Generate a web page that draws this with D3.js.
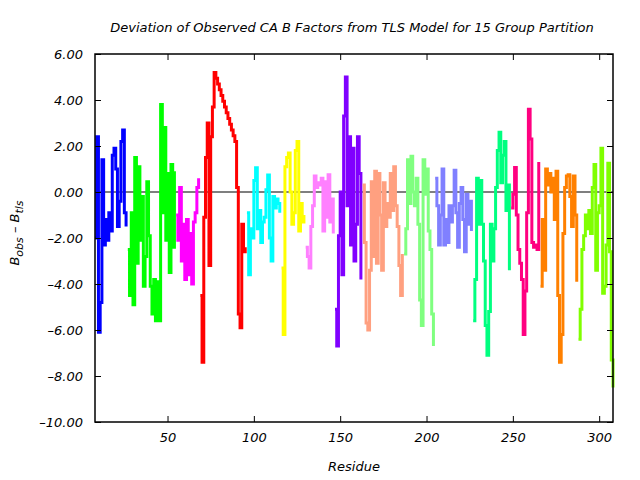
<!DOCTYPE html>
<html>
<head>
<meta charset="utf-8">
<script src="https://cdn.jsdelivr.net/npm/d3@7"></script>
<style>
  html, body { margin: 0; padding: 0; background: #fff; }
  svg { display: block; }
  text { font-family: "DejaVu Sans", sans-serif; font-style: italic; }
</style>
</head>
<body>
<svg id="chart" width="640" height="480"></svg>
<script>
// ---- data ----
const titleText = "Deviation of Observed CA B Factors from TLS Model for 15 Group Partition";
const xLabel = "Residue";
const xTicks = [50, 100, 150, 200, 250, 300];
const yTicks = [6, 4, 2, 0, -2, -4, -6, -8, -10];

const groupColors = ["#0000ff", "#00ff00", "#ff00ff", "#ff0000", "#00ffff",
                     "#ffff00", "#ff80ff", "#8000ff", "#ffa080", "#80ff80",
                     "#8080ff", "#00ff80", "#ff0080", "#ff8000", "#80ff00"];
// first residue of each group
const groupStarts = [8, 27, 55, 69, 96, 116, 130, 147, 163, 187, 205, 227, 249, 266, 288];

const g01 = [-2.0, 2.4, -6.1, -4.8, 1.4, -2.3, -1.2, -2.1, -0.9, -1.7, 1.6, 1.9, 1.0, -1.5, -0.4, 2.2, 2.7, -0.9, -1.5];
const g02 = [-2.5, -4.5, -0.9, -4.9, 1.5, -3.1, 1.1, -2.1, -0.2, -4.1, -2.8, 0.45, -1.9, -4.1, -5.3, -3.8, -5.6, -3.9, -5.6, 3.8, -0.9, 2.8, -2.1, 0.8, -3.5, 1.2, -2.4, 0.9];
const g03 = [-1.0, -2.1, 0.2, -3.0, -1.4, -3.8, -1.2, -3.6, -1.8, -4.0, -1.3, -0.9, 0.2, 0.6];
const g04 = [-4.5, -7.4, -1.1, 1.5, 3.0, -3.2, 2.4, 3.7, 5.2, 4.95, 4.7, 4.45, 4.2, 3.95, 3.7, 3.45, 3.2, 2.95, 2.7, 2.45, 2.2, 0.2, -5.3, -5.9, -1.4, -2.6, -2.4];
const g05 = [-0.9, -3.6, -1.6, -2.0, 0.5, 1.05, -1.6, -0.8, -2.2, -1.3, -1.1, 0.1, 0.74, -2.0, -3.0, -0.2, -0.7, -0.3, -0.5, -0.9];
const g06 = [-3.3, -6.2, 1.1, 1.5, 1.7, 0.0, -1.4, -0.9, 1.8, 2.2, -1.7, -0.5, -1.3, -1.0];
const g07 = [-2.4, -2.8, -3.3, -1.5, -0.6, 0.7, 0.2, 0.4, 0.3, 0.6, -1.7, 0.45, -1.1, 0.75, -1.3, -0.3, -1.8];
const g08 = [-5.1, -6.7, -1.9, 0.0, -3.6, 3.3, 5.0, -0.6, 2.4, -2.3, 1.9, -3.0, -1.4, 2.4, 0.8, -3.8];
const g09 = [0.3, -2.2, -5.7, -6.0, -3.4, 0.45, -2.8, 0.9, -3.1, 0.8, -1.0, -3.4, 0.4, -1.5, -0.5, -1.1, 0.8, -0.8, 1.1, -0.6, -1.5, -3.2, -4.5, -2.7];
const g10 = [-2.7, -1.6, 1.4, -0.5, 1.55, 0.0, -0.6, 0.6, -1.4, -4.7, -5.8, 1.4, -0.1, 1.0, -1.7, -2.5, -5.3, -6.7];
const g11 = [0.6, -0.6, -2.3, -1.0, 1.0, -2.3, -1.2, -2.2, -0.6, -1.3, -0.6, 0.95, -0.9, -2.4, -0.5, 0.2, -1.2, -2.6, -0.1, -1.4, -0.4, -1.7];
const g12 = [-5.6, -3.8, 0.6, -1.4, 0.5, -1.4, -3.0, -5.8, -7.1, -5.2, -1.4, -3.0, -1.6, 0.2, 1.8, 2.6, 0.4, 1.6, 2.2, -0.8, 0.3, -3.4];
const g13 = [-0.7, -0.1, 1.07, -1.0, -2.5, -3.1, -3.8, -6.2, -4.3, -0.9, 3.6, 2.3, -2.2, -2.4, -2.3, -2.5, 1.3];
const g14 = [-4.1, -1.2, -3.4, 1.0, 0.3, 0.8, 0.0, 0.6, -1.2, 0.9, -4.5, -7.4, -6.2, -1.8, 0.2, 0.7, 0.75, -0.2, -1.5, 0.7, -1.0, -3.9];
const g15 = [-6.4, -5.1, -2.5, -1.9, -1.0, -1.6, -0.8, -1.8, 0.2, 1.2, -3.4, -0.9, -0.6, 1.9, -4.4, -4.1, -2.3, 1.25, -2.6, -7.3, -8.5];
const groupValues = [g01, g02, g03, g04, g05, g06, g07, g08, g09, g10, g11, g12, g13, g14, g15];

// ---- layout ----
const plot = { left: 95, right: 613, top: 54, bottom: 422 };
const svg = d3.select("#chart");

const x = d3.scaleLinear().domain([8, 308]).range([plot.left, plot.right]);
const y = d3.scaleLinear().domain([-10, 6]).range([plot.bottom, plot.top]);

// zero line
svg.append("line")
  .attr("x1", plot.left).attr("x2", plot.right)
  .attr("y1", y(0)).attr("y2", y(0))
  .attr("stroke", "#000").attr("stroke-width", 1.2);

// data series (step lines)
const line = d3.line()
  .x(d => x(d.r)).y(d => y(d.v))
  .curve(d3.curveStepAfter);

groupValues.forEach((vals, i) => {
  const pts = vals.map((v, k) => ({ r: groupStarts[i] + k, v }));
  svg.append("path")
    .datum(pts)
    .attr("d", line)
    .attr("fill", "none")
    .attr("stroke", groupColors[i])
    .attr("stroke-width", 3)
    .attr("stroke-linejoin", "miter");
});

// axes (inward ticks on all sides)
const fmtY = d => (d < 0 ? "\u2013" + Math.abs(d).toFixed(2) : d.toFixed(2));

const gl = svg.append("g").attr("transform", `translate(${plot.left},0)`)
  .call(d3.axisLeft(y).tickValues(yTicks).tickSize(-6).tickSizeOuter(0).tickPadding(12).tickFormat(fmtY));
const gb = svg.append("g").attr("transform", `translate(0,${plot.bottom})`)
  .call(d3.axisBottom(x).tickValues(xTicks).tickSize(-6).tickSizeOuter(0).tickPadding(11).tickFormat(d3.format("d")));
const gt = svg.append("g").attr("transform", `translate(0,${plot.top})`)
  .call(d3.axisTop(x).tickValues(xTicks).tickSize(-6).tickSizeOuter(0).tickFormat(""));
const gr = svg.append("g").attr("transform", `translate(${plot.right},0)`)
  .call(d3.axisRight(y).tickValues(yTicks).tickSize(-6).tickSizeOuter(0).tickFormat(""));

[gl, gb, gt, gr].forEach(g => {
  g.select(".domain").remove();
  g.selectAll(".tick line").attr("stroke", "#000").attr("stroke-width", 1);
  g.selectAll(".tick text")
    .attr("fill", "#000")
    .style("font-family", "'DejaVu Sans', sans-serif")
    .style("font-style", "italic")
    .style("font-size", "13px");
});

// border
svg.append("rect")
  .attr("x", plot.left).attr("y", plot.top)
  .attr("width", plot.right - plot.left).attr("height", plot.bottom - plot.top)
  .attr("fill", "none").attr("stroke", "#000").attr("stroke-width", 1.5);

// title
svg.append("text")
  .attr("x", 352).attr("y", 32)
  .attr("text-anchor", "middle")
  .style("font-size", "13px")
  .text(titleText);

// x label
svg.append("text")
  .attr("x", 354).attr("y", 471)
  .attr("text-anchor", "middle")
  .style("font-size", "13px")
  .text(xLabel);

// y label with subscripts
const yl = svg.append("text")
  .attr("transform", "translate(19,233) rotate(-90)")
  .attr("text-anchor", "middle")
  .style("font-size", "13px");
yl.append("tspan").text("B");
yl.append("tspan").attr("dy", 4).style("font-size", "11px").text("obs");
yl.append("tspan").attr("dy", -4).text(" \u2013 B");
yl.append("tspan").attr("dy", 4).style("font-size", "11px").text("tls");
</script>
</body>
</html>
